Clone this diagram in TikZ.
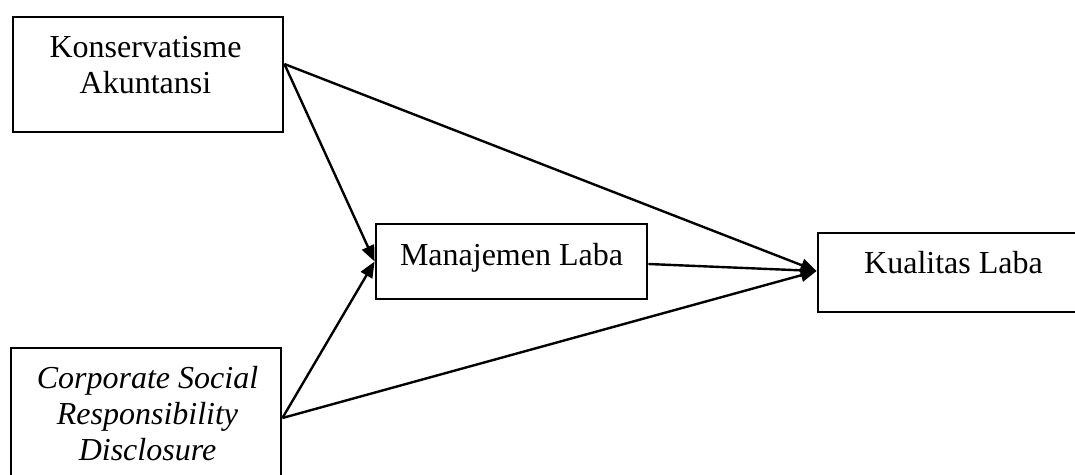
\documentclass[tikz,border=0pt]{standalone}
\usepackage{fontspec}
\setmainfont{Liberation Serif}
\usetikzlibrary{arrows.meta}
\begin{document}
\begin{tikzpicture}[x=1pt,y=-1pt,
  box/.style={draw=black,line width=2.8pt,rectangle,inner sep=0pt},
  lbl/.style={font=\fontsize{32pt}{36pt}\selectfont,inner sep=0pt,align=center},
  conn/.style={line width=2.4pt,-{Triangle[length=16pt,width=13pt]}}]
\useasboundingbox (0,0) rectangle (1075,474);
\clip (0,0) rectangle (1075,474);
% boxes
\node[box,minimum width=270pt,minimum height=115pt] (k) at (148,74.5) {};
\node[box,minimum width=271pt,minimum height=75pt] (m) at (511.5,261.5) {};
\node[box,minimum width=272pt,minimum height=79pt] (q) at (954,272.5) {};
\node[box,minimum width=270pt,minimum height=134pt] (c) at (146,415) {};
% texts
\node[lbl,anchor=north] (kt) at (145.5,36) {Konservatisme\\Akuntansi};
\node[lbl,anchor=base] (mt) at (511.5,265) {Manajemen Laba};
\node[lbl,anchor=base] (qt) at (953.5,273) {Kualitas Laba};
\node[lbl,anchor=north,font=\fontsize{32pt}{36pt}\selectfont\itshape] (ct) at (147.5,366) {Corporate Social\\Responsibility\\Disclosure};
% connectors
\draw[conn] ([yshift=10.5pt]k.east) -- (m.west);
\draw[conn] ([yshift=-3pt]c.east) -- (m.west);
\draw[conn] ([yshift=10.5pt]k.east) -- ([yshift=1.5pt]q.west);
\draw[conn] ([yshift=-2.5pt]m.east) -- ([yshift=1.5pt]q.west);
\draw[conn] ([yshift=-3pt]c.east) -- ([yshift=1.5pt]q.west);
\end{tikzpicture}
\end{document}
